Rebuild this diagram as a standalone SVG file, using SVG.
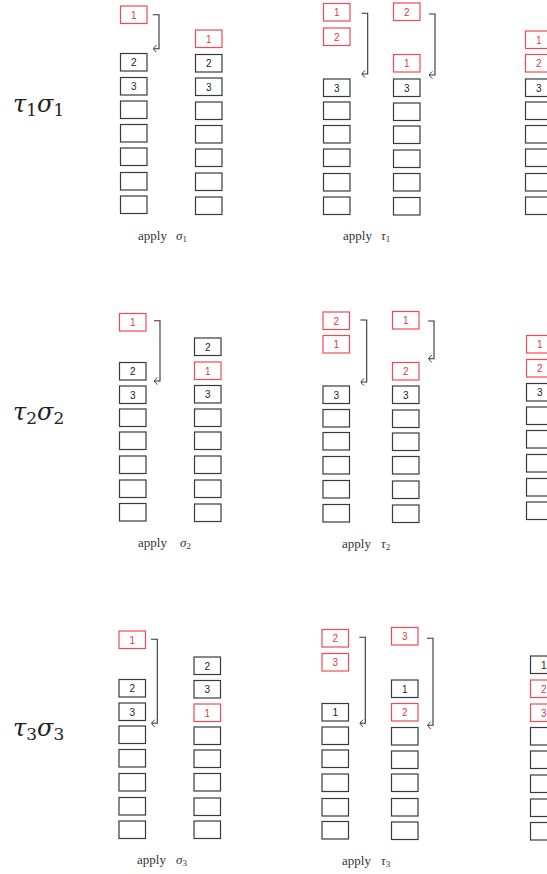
<svg xmlns="http://www.w3.org/2000/svg" width="547" height="874" viewBox="0 0 547 874">
<style>
rect{width:26.5px;height:17.5px;fill:#fff;stroke-width:1.2}
.k{stroke:#3a3a3a}
.r{stroke:#ef4b55}
.n{font-family:"Liberation Sans","DejaVu Sans",sans-serif;font-size:10px;text-anchor:middle}
.nk{fill:#222}
.nr{fill:#e8353f}
.ar{fill:none;stroke:#333;stroke-width:1.1;marker-end:url(#hk)}
.lab{font-family:"Liberation Serif","DejaVu Serif",serif;font-size:13px;fill:#333}
.g{font-style:italic}
.s{font-size:9px}
.row{font-family:"DejaVu Serif","Liberation Serif",serif;font-size:24px;fill:#222}
.rs{font-size:17px}
</style>
<defs>
<marker id="hk" markerUnits="userSpaceOnUse" markerWidth="10" markerHeight="10" refX="0" refY="0" orient="auto" overflow="visible">
<path d="M-3,-3.6 Q-0.4,-1.2 0,0 Q-0.4,1.2 -3,3.6" fill="none" stroke="#333" stroke-width="1"/>
</marker>
</defs>

<!-- row labels -->
<g id="lbl1"><text class="row" x="13" y="112"><tspan class="g">τ</tspan><tspan class="rs" dy="4">1</tspan><tspan class="g" dy="-4">σ</tspan><tspan class="rs" dy="4">1</tspan></text></g>
<g id="lbl2"><text class="row" x="13" y="420"><tspan class="g">τ</tspan><tspan class="rs" dy="4">2</tspan><tspan class="g" dy="-4">σ</tspan><tspan class="rs" dy="4">2</tspan></text></g>
<g id="lbl3"><text class="row" x="13" y="736"><tspan class="g">τ</tspan><tspan class="rs" dy="4">3</tspan><tspan class="g" dy="-4">σ</tspan><tspan class="rs" dy="4">3</tspan></text></g>

<!-- ROW 1 -->
<g id="r1a" transform="translate(120.5,0)">
<rect class="r" x="0" y="6"/><text class="n nr" x="13.25" y="18.5">1</text>
<rect class="k" x="0" y="53.5"/><text class="n nk" x="13.25" y="66">2</text>
<rect class="k" x="0" y="77.5"/><text class="n nk" x="13.25" y="90">3</text>
<rect class="k" x="0" y="101"/><rect class="k" x="0" y="124.5"/><rect class="k" x="0" y="148"/><rect class="k" x="0" y="172.5"/><rect class="k" x="0" y="196"/>
</g>
<g id="r1b" transform="translate(195.5,0)">
<rect class="r" x="0" y="30"/><text class="n nr" x="13.25" y="42.5">1</text>
<rect class="k" x="0" y="54.5"/><text class="n nk" x="13.25" y="67">2</text>
<rect class="k" x="0" y="78"/><text class="n nk" x="13.25" y="90.5">3</text>
<rect class="k" x="0" y="102"/><rect class="k" x="0" y="125.5"/><rect class="k" x="0" y="149"/><rect class="k" x="0" y="173"/><rect class="k" x="0" y="197"/>
</g>
<g id="r1c" transform="translate(323.5,0)">
<rect class="r" x="0" y="3.5"/><text class="n nr" x="13.25" y="16">1</text>
<rect class="r" x="0" y="28"/><text class="n nr" x="13.25" y="40.5">2</text>
<rect class="k" x="0" y="79"/><text class="n nk" x="13.25" y="91.5">3</text>
<rect class="k" x="0" y="102"/><rect class="k" x="0" y="125.5"/><rect class="k" x="0" y="149"/><rect class="k" x="0" y="173.5"/><rect class="k" x="0" y="197"/>
</g>
<g id="r1d" transform="translate(393.5,0)">
<rect class="r" x="0" y="3"/><text class="n nr" x="13.25" y="15.5">2</text>
<rect class="r" x="0" y="54.5"/><text class="n nr" x="13.25" y="67">1</text>
<rect class="k" x="0" y="79"/><text class="n nk" x="13.25" y="91.5">3</text>
<rect class="k" x="0" y="103"/><rect class="k" x="0" y="126"/><rect class="k" x="0" y="150"/><rect class="k" x="0" y="173.5"/><rect class="k" x="0" y="197.5"/>
</g>
<g id="r1e" transform="translate(525.5,0)">
<rect class="r" x="0" y="31"/><text class="n nr" x="13.25" y="43.5">1</text>
<rect class="r" x="0" y="54.5"/><text class="n nr" x="13.25" y="67">2</text>
<rect class="k" x="0" y="79"/><text class="n nk" x="13.25" y="91.5">3</text>
<rect class="k" x="0" y="102"/><rect class="k" x="0" y="125.5"/><rect class="k" x="0" y="149"/><rect class="k" x="0" y="173.5"/><rect class="k" x="0" y="197"/>
</g>

<!-- ROW 2 -->
<g id="r2a" transform="translate(119.5,0)">
<rect class="r" x="0" y="313.5"/><text class="n nr" x="13.25" y="326">1</text>
<rect class="k" x="0" y="362.5"/><text class="n nk" x="13.25" y="375">2</text>
<rect class="k" x="0" y="386"/><text class="n nk" x="13.25" y="398.5">3</text>
<rect class="k" x="0" y="409"/><rect class="k" x="0" y="432"/><rect class="k" x="0" y="456"/><rect class="k" x="0" y="480"/><rect class="k" x="0" y="503.5"/>
</g>
<g id="r2b" transform="translate(194.5,0)">
<rect class="k" x="0" y="338"/><text class="n nk" x="13.25" y="350.5">2</text>
<rect class="r" x="0" y="362"/><text class="n nr" x="13.25" y="374.5">1</text>
<rect class="k" x="0" y="385.5"/><text class="n nk" x="13.25" y="398">3</text>
<rect class="k" x="0" y="409"/><rect class="k" x="0" y="432"/><rect class="k" x="0" y="456"/><rect class="k" x="0" y="480"/><rect class="k" x="0" y="504"/>
</g>
<g id="r2c" transform="translate(323,0)">
<rect class="r" x="0" y="312"/><text class="n nr" x="13.25" y="324.5">2</text>
<rect class="r" x="0" y="335.5"/><text class="n nr" x="13.25" y="348">1</text>
<rect class="k" x="0" y="386"/><text class="n nk" x="13.25" y="398.5">3</text>
<rect class="k" x="0" y="409.5"/><rect class="k" x="0" y="432.5"/><rect class="k" x="0" y="456.5"/><rect class="k" x="0" y="480.5"/><rect class="k" x="0" y="504.5"/>
</g>
<g id="r2d" transform="translate(392.5,0)">
<rect class="r" x="0" y="311.5"/><text class="n nr" x="13.25" y="324">1</text>
<rect class="r" x="0" y="362.5"/><text class="n nr" x="13.25" y="375">2</text>
<rect class="k" x="0" y="386"/><text class="n nk" x="13.25" y="398.5">3</text>
<rect class="k" x="0" y="410"/><rect class="k" x="0" y="433"/><rect class="k" x="0" y="456.5"/><rect class="k" x="0" y="481"/><rect class="k" x="0" y="505"/>
</g>
<g id="r2e" transform="translate(526.5,0)">
<rect class="r" x="0" y="335.5"/><text class="n nr" x="13.25" y="348">1</text>
<rect class="r" x="0" y="359.5"/><text class="n nr" x="13.25" y="372">2</text>
<rect class="k" x="0" y="383.5"/><text class="n nk" x="13.25" y="396">3</text>
<rect class="k" x="0" y="407"/><rect class="k" x="0" y="430.5"/><rect class="k" x="0" y="454.5"/><rect class="k" x="0" y="478.5"/><rect class="k" x="0" y="502"/>
</g>

<!-- ROW 3 -->
<g id="r3a" transform="translate(119,0)">
<rect class="r" x="0" y="631"/><text class="n nr" x="13.25" y="643.5">1</text>
<rect class="k" x="0" y="679.5"/><text class="n nk" x="13.25" y="692">2</text>
<rect class="k" x="0" y="703"/><text class="n nk" x="13.25" y="715.5">3</text>
<rect class="k" x="0" y="726"/><rect class="k" x="0" y="749.5"/><rect class="k" x="0" y="773.5"/><rect class="k" x="0" y="797.5"/><rect class="k" x="0" y="821"/>
</g>
<g id="r3b" transform="translate(194,0)">
<rect class="k" x="0" y="657"/><text class="n nk" x="13.25" y="669.5">2</text>
<rect class="k" x="0" y="680.5"/><text class="n nk" x="13.25" y="693">3</text>
<rect class="r" x="0" y="704"/><text class="n nr" x="13.25" y="716.5">1</text>
<rect class="k" x="0" y="727"/><rect class="k" x="0" y="750"/><rect class="k" x="0" y="773.5"/><rect class="k" x="0" y="798"/><rect class="k" x="0" y="821"/>
</g>
<g id="r3c" transform="translate(322,0)">
<rect class="r" x="0" y="629.5"/><text class="n nr" x="13.25" y="642">2</text>
<rect class="r" x="0" y="653.5"/><text class="n nr" x="13.25" y="666">3</text>
<rect class="k" x="0" y="703.5"/><text class="n nk" x="13.25" y="716">1</text>
<rect class="k" x="0" y="727"/><rect class="k" x="0" y="750"/><rect class="k" x="0" y="774"/><rect class="k" x="0" y="798.5"/><rect class="k" x="0" y="821.5"/>
</g>
<g id="r3d" transform="translate(391.5,0)">
<rect class="r" x="0" y="627.5"/><text class="n nr" x="13.25" y="640">3</text>
<rect class="k" x="0" y="680"/><text class="n nk" x="13.25" y="692.5">1</text>
<rect class="r" x="0" y="703.5"/><text class="n nr" x="13.25" y="716">2</text>
<rect class="k" x="0" y="727.5"/><rect class="k" x="0" y="751"/><rect class="k" x="0" y="774"/><rect class="k" x="0" y="798.5"/><rect class="k" x="0" y="822"/>
</g>
<g id="r3e" transform="translate(530.5,0)">
<rect class="k" x="0" y="656"/><text class="n nk" x="13.25" y="668.5">1</text>
<rect class="r" x="0" y="680"/><text class="n nr" x="13.25" y="692.5">2</text>
<rect class="r" x="0" y="704"/><text class="n nr" x="13.25" y="716.5">3</text>
<rect class="k" x="0" y="727.5"/><rect class="k" x="0" y="751"/><rect class="k" x="0" y="775"/><rect class="k" x="0" y="799"/><rect class="k" x="0" y="822.5"/>
</g>

<!-- captions -->
<g id="cap1a"><text class="lab" x="138" y="240">apply<tspan class="g" x="176">σ</tspan><tspan class="s" dy="2">1</tspan></text></g>
<g id="cap1b"><text class="lab" x="343" y="240">apply<tspan class="g" x="381">τ</tspan><tspan class="s" dy="2">1</tspan></text></g>
<g id="cap2a"><text class="lab" x="138" y="547">apply<tspan class="g" x="180">σ</tspan><tspan class="s" dy="2">2</tspan></text></g>
<g id="cap2b"><text class="lab" x="342" y="548">apply<tspan class="g" x="381">τ</tspan><tspan class="s" dy="2">2</tspan></text></g>
<g id="cap3a"><text class="lab" x="137" y="864">apply<tspan class="g" x="176">σ</tspan><tspan class="s" dy="2">3</tspan></text></g>
<g id="cap3b"><text class="lab" x="342" y="865">apply<tspan class="g" x="381">τ</tspan><tspan class="s" dy="2">3</tspan></text></g>

<!-- connectors -->
<g id="connectors">
<path class="ar" d="M152.7 14.7 H159 V48.7 H153.5"/>
<path class="ar" d="M361.7 13.3 H367.7 V74 H362"/>
<path class="ar" d="M429 14 H435 V75 H429.3"/>
<path class="ar" d="M154 320.7 H160 V381 H154.3"/>
<path class="ar" d="M360.3 320 H366.7 V382 H361"/>
<path class="ar" d="M428 321 H434 V358.7 H428.7"/>
<path class="ar" d="M151 639.3 H157.3 V723.3 H151.7"/>
<path class="ar" d="M359.3 637.3 H365.3 V723.3 H360"/>
<path class="ar" d="M427 638.3 H433 V725.3 H427.7"/>
</g>
</svg>
